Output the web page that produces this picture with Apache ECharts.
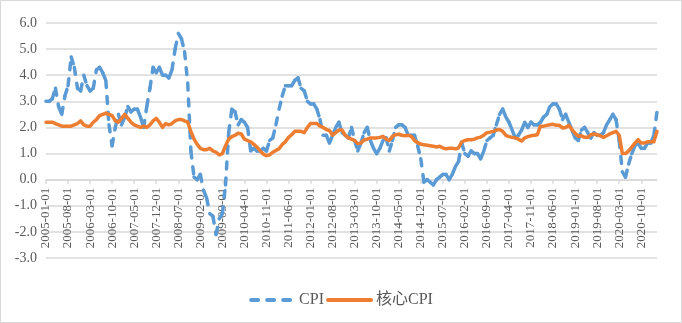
<!DOCTYPE html>
<html><head><meta charset="utf-8">
<script src="https://cdn.jsdelivr.net/npm/echarts@6/dist/echarts.min.js"></script>
<style>html,body{margin:0;padding:0;background:#fff}#c{width:682px;height:323px}</style>
</head><body><div id="c"></div>
<script>
// Monthly categories 2005-01-01 .. 2021-03-01
const startYear = 2005;
const monthCount = 195;
const categories = [];
for (let i = 0; i < monthCount; i++) {
  const y = startYear + Math.floor(i / 12), m = i % 12 + 1;
  categories.push(y + '-' + String(m).padStart(2, '0') + '-01');
}

const seriesNames = ['CPI', '核心CPI'];

const cpi = [
  3.0,3.0,3.1,3.5,2.8,2.5,3.2,3.6,4.7,4.3,3.5,3.4,
  4.0,3.6,3.4,3.5,4.2,4.3,4.1,3.8,2.1,1.3,2.0,2.5,
  2.1,2.4,2.8,2.6,2.7,2.7,2.4,2.0,2.8,3.5,4.3,4.1,
  4.3,4.0,4.0,3.9,4.2,5.0,5.6,5.4,4.9,3.7,1.1,0.1,
  0.0,0.2,-0.4,-0.7,-1.3,-1.4,-2.1,-1.5,-1.3,-0.2,1.8,2.7,
  2.6,2.1,2.3,2.2,2.0,1.1,1.2,1.1,1.1,1.2,1.1,1.5,
  1.6,2.1,2.7,3.2,3.6,3.6,3.6,3.8,3.9,3.5,3.4,3.0,
  2.9,2.9,2.7,2.3,1.7,1.7,1.4,1.7,2.0,2.2,1.8,1.7,
  1.6,2.0,1.5,1.1,1.4,1.8,2.0,1.5,1.2,1.0,1.2,1.5,
  1.6,1.1,1.5,2.0,2.1,2.1,2.0,1.7,1.7,1.7,1.3,0.8,
  -0.1,0.0,-0.1,-0.2,0.0,0.1,0.2,0.2,0.0,0.2,0.5,0.7,
  1.4,1.0,0.9,1.1,1.0,1.0,0.8,1.1,1.5,1.6,1.7,2.1,
  2.5,2.7,2.4,2.2,1.9,1.6,1.7,1.9,2.2,2.0,2.2,2.1,
  2.1,2.2,2.4,2.5,2.8,2.9,2.9,2.7,2.3,2.5,2.2,1.9,
  1.6,1.5,1.9,2.0,1.8,1.6,1.8,1.7,1.7,1.8,2.1,2.3,
  2.5,2.3,1.5,0.3,0.1,0.6,1.0,1.3,1.4,1.2,1.2,1.4,
  1.4,1.7,2.6
];

const coreCpi = [
  2.2,2.2,2.2,2.15,2.1,2.05,2.05,2.05,2.05,2.1,2.15,2.25,
  2.1,2.05,2.05,2.2,2.3,2.45,2.5,2.55,2.5,2.45,2.25,2.2,
  2.35,2.5,2.35,2.2,2.1,2.05,2.0,2.05,2.0,2.1,2.25,2.35,
  2.2,2.0,2.15,2.1,2.15,2.25,2.3,2.3,2.25,2.2,1.85,1.55,
  1.35,1.2,1.15,1.15,1.2,1.1,1.05,0.95,1.0,1.3,1.55,1.65,
  1.7,1.78,1.75,1.55,1.5,1.45,1.35,1.25,1.1,0.98,0.92,0.95,
  1.05,1.12,1.18,1.35,1.45,1.62,1.72,1.85,1.85,1.85,1.8,2.0,
  2.15,2.15,2.15,2.05,2.0,1.92,1.88,1.7,1.8,1.9,1.9,1.7,
  1.6,1.55,1.5,1.38,1.4,1.52,1.55,1.6,1.6,1.6,1.62,1.66,
  1.55,1.5,1.66,1.72,1.74,1.7,1.68,1.7,1.66,1.5,1.42,1.36,
  1.34,1.32,1.3,1.28,1.25,1.28,1.22,1.18,1.2,1.2,1.18,1.22,
  1.45,1.5,1.53,1.53,1.55,1.6,1.63,1.7,1.8,1.82,1.85,1.9,
  1.92,1.85,1.7,1.65,1.62,1.6,1.55,1.48,1.6,1.65,1.68,1.7,
  1.72,2.05,2.05,2.08,2.1,2.12,2.08,2.08,1.98,2.0,2.08,1.92,
  1.78,1.66,1.68,1.62,1.62,1.72,1.75,1.72,1.68,1.62,1.68,1.75,
  1.8,1.85,1.7,1.0,1.0,1.1,1.25,1.4,1.53,1.4,1.4,1.45,
  1.45,1.45,1.85
];

const yMin = -3, yMax = 6, yStep = 1;

const BLUE = '#5B9BD5', ORANGE = '#ED7D31', GRID = '#d9d9d9', TXT = '#595959';
const DASH = [7, 9];
const LW = 3.5;
const serif = "'Liberation Serif', 'Times New Roman', 'Noto Sans CJK SC', serif";

const gridTop = 23, gridBottom = 65, chartH = 323;
const plotH = chartH - gridTop - gridBottom;
// place the category axis at y = 0 (Excel "axis crosses at 0")
const xAxisOffset = -plotH * (0 - yMin) / (yMax - yMin);

const chart = echarts.init(document.getElementById('c'), null, {renderer: 'canvas'});
chart.setOption({
  animation: false,
  backgroundColor: '#fff',
  graphic: [{
    type: 'rect', silent: true, z: 100,
    shape: {x: 0.5, y: 0.5, width: 681, height: 322},
    style: {fill: null, stroke: GRID, lineWidth: 1}
  }],
  grid: {left: 46, right: 25, top: gridTop, bottom: gridBottom, containLabel: false},
  legend: {
    data: seriesNames,
    top: 287, left: 'center',
    itemWidth: 43, itemHeight: 14, itemGap: 2,
    itemStyle: {opacity: 0},
    lineStyle: {width: 4},
    textStyle: {fontSize: 16, fontFamily: serif, color: TXT}
  },
  xAxis: {
    type: 'category',
    data: categories,
    boundaryGap: false,
    position: 'bottom',
    offset: xAxisOffset,
    axisLine: {onZero: false, lineStyle: {color: GRID, width: 1.5}},
    axisTick: {show: true, interval: 6, length: 4, lineStyle: {color: GRID, width: 1.5}},
    axisLabel: {interval: 6, rotate: 90, margin: 8, fontSize: 13, fontFamily: serif, color: TXT},
    splitLine: {show: false}
  },
  yAxis: {
    type: 'value',
    min: yMin, max: yMax, interval: yStep,
    axisLine: {show: false},
    axisTick: {show: false},
    axisLabel: {margin: 9, fontSize: 14, fontFamily: serif, color: TXT,
      formatter: v => v.toFixed(1)},
    splitLine: {lineStyle: {color: GRID, width: 1.5}}
  },
  series: [
    {
      // legend swatch for CPI
      type: 'line', name: seriesNames[0], data: [], symbol: 'none', showSymbol: false,
      lineStyle: {color: BLUE, width: LW, type: DASH, cap: 'round'},
      itemStyle: {color: BLUE}
    },
    {
      type: 'custom', name: seriesNames[0],
      data: cpi.map((v, i) => [i, v]),
      encode: {x: 0, y: 1},
      itemStyle: {color: BLUE},
      renderItem: function (params, api) {
        const i = api.value(0);
        if (i === 0) return null;
        const p0 = api.coord([i - 1, cpi[i - 1]]);
        const p1 = api.coord([i, api.value(1)]);
        return {
          type: 'line',
          shape: {x1: p0[0], y1: p0[1], x2: p1[0], y2: p1[1]},
          style: {stroke: BLUE, lineWidth: LW, lineDash: DASH, lineCap: 'round', fill: null}
        };
      }
    },
    {
      type: 'line', name: seriesNames[1], data: coreCpi, symbol: 'none', showSymbol: false,
      lineStyle: {color: ORANGE, width: LW, cap: 'round', join: 'round'},
      itemStyle: {color: ORANGE}
    }
  ]
});
</script>
</body></html>
